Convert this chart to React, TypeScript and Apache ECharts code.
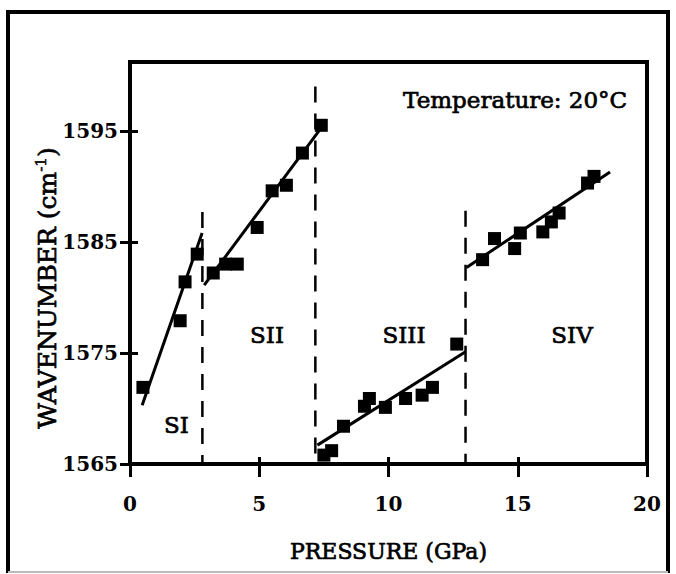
import React, { useEffect, useRef } from "react";
import * as echarts from "echarts";

// ---- data ----
const siX = [0.5, 1.94, 2.13, 2.6];
const siY = [1571.9, 1577.9, 1581.4, 1583.9];
const siiX = [3.22, 3.7, 4.15, 4.92, 5.5, 6.05, 6.67, 7.4];
const siiY = [1582.2, 1583.0, 1583.0, 1586.3, 1589.6, 1590.1, 1593.0, 1595.5];
const siiiX = [7.5, 7.8, 8.26, 9.07, 9.26, 9.88, 10.66, 11.3, 11.7, 12.64];
const siiiY = [1565.8, 1566.2, 1568.4, 1570.2, 1570.9, 1570.1, 1570.9, 1571.2, 1571.9, 1575.8];
const sivX = [13.64, 14.1, 14.88, 15.1, 15.97, 16.3, 16.6, 17.7, 17.95];
const sivY = [1583.4, 1585.3, 1584.4, 1585.8, 1585.9, 1586.8, 1587.6, 1590.3, 1590.9];

// linear fits [x0, y0, x1, y1]
const siFit = [0.47, 1570.3, 2.79, 1585.8];
const siiFit = [2.87, 1581.1, 7.44, 1595.4];
const siiiFit = [7.25, 1566.7, 12.98, 1575.1];
const sivFit = [13.02, 1582.7, 18.57, 1591.3];

// phase boundaries: x, top y
const boundaryX = [2.8, 7.17, 12.98];
const boundaryTop = [1587.7, 1599, 1587.8];

const phaseNames = ["SI", "SII", "SIII", "SIV"];
const phaseLabelX = [1.8, 5.3, 10.6, 17.1];
const phaseLabelY = [1568.5, 1576.6, 1576.6, 1576.6];

const xTicks = [0, 5, 10, 15, 20];
const yTicks = [1565, 1575, 1585, 1595];
const xMin = 0, xMax = 20, yMin = 1565, yMax = 1601.2;

const tempText = "Temperature: 20°C";
const tempPos = [14.9, 1597.8];

const FONT = "DejaVu Serif";
const INK = "#000";

const zip = (xs: number[], ys: number[]) => xs.map((x, i) => [x, ys[i]]);

export default function App() {
  const ref = useRef<HTMLDivElement>(null);
  useEffect(() => {
    if (!ref.current) return;
    const chart = echarts.init(ref.current, undefined, { renderer: "svg" });

    const pointSeries = [
      zip(siX, siY),
      zip(siiX, siiY),
      zip(siiiX, siiiY),
      zip(sivX, sivY),
    ].map((d, i) => ({
      type: "scatter",
      name: phaseNames[i] + " data",
      data: d,
      symbol: "rect",
      symbolSize: 13,
      itemStyle: { color: INK, opacity: 1 },
      z: 5,
    }));

    const fitSeries = [siFit, siiFit, siiiFit, sivFit].map((f, i) => ({
      type: "line",
      name: phaseNames[i] + " fit",
      data: [
        [f[0], f[1]],
        [f[2], f[3]],
      ],
      showSymbol: false,
      symbol: "none",
      lineStyle: { color: INK, width: 3 },
      z: 4,
    }));

    const boundarySeries = boundaryX.map((bx, i) => ({
      type: "line",
      name: "boundary " + (i + 1),
      data: [
        [bx, boundaryTop[i]],
        [bx, yMin],
      ],
      showSymbol: false,
      symbol: "none",
      lineStyle: { color: INK, width: 2.5, type: [16, 11] },
      z: 3,
    }));

    const textThick = { textBorderColor: INK, textBorderWidth: 0.7 };

    const labelSeries = {
      type: "scatter",
      name: "labels",
      symbolSize: 0,
      silent: true,
      itemStyle: { opacity: 1 },
      data: phaseNames
        .map((n, i) => ({ name: n, value: [phaseLabelX[i], phaseLabelY[i]] }))
        .concat([{ name: tempText, value: tempPos }]),
      label: {
        show: true,
        position: "inside",
        formatter: (p: any) => p.name,
        color: INK,
        fontFamily: FONT,
        fontSize: 23,
        ...textThick,
      },
      z: 6,
    };

    const axisLabelStyle = { color: INK, fontFamily: FONT, fontSize: 20, fontWeight: "bold" as const };

    chart.setOption({
      animation: false,
      backgroundColor: "#fff",
      grid: {
        left: 130,
        right: 29,
        top: 62,
        bottom: 110,
        show: true,
        borderColor: INK,
        borderWidth: 4,
      },
      xAxis: [
        {
          type: "value",
          min: xMin,
          max: xMax,
          interval: 5,
          position: "bottom",
          axisLine: { show: true, lineStyle: { color: INK, width: 4 } },
          axisTick: { show: true, inside: false, length: 13, lineStyle: { color: INK, width: 3 } },
          axisLabel: { ...axisLabelStyle, margin: 30, customValues: xTicks, formatter: (v: number) => String(v) },
          splitLine: { show: false },
          name: "PRESSURE (GPa)",
          nameLocation: "middle",
          nameGap: 76,
          nameTextStyle: { color: INK, fontFamily: FONT, fontSize: 22, ...textThick },
        },
        {
          type: "value",
          min: xMin,
          max: xMax,
          interval: 5,
          position: "bottom",
          offset: 0,
          axisLine: { show: false },
          axisTick: { show: true, inside: true, length: 7, lineStyle: { color: INK, width: 3 } },
          axisLabel: { show: false },
          splitLine: { show: false },
        },
      ],
      yAxis: [
        {
          type: "value",
          min: yMin,
          max: yMax,
          position: "left",
          axisLine: { show: true, lineStyle: { color: INK, width: 4 } },
          axisTick: { show: true, inside: false, length: 10, customValues: yTicks, lineStyle: { color: INK, width: 3 } },
          axisLabel: { ...axisLabelStyle, margin: 12, customValues: yTicks, formatter: (v: number) => String(v) },
          splitLine: { show: false },
        },
        {
          type: "value",
          min: yMin,
          max: yMax,
          position: "left",
          offset: 0,
          axisLine: { show: false },
          axisTick: { show: true, inside: true, length: 8, customValues: yTicks, lineStyle: { color: INK, width: 3 } },
          axisLabel: { show: false },
          splitLine: { show: false },
        },
      ],
      graphic: [
        { type: "line", shape: { x1: 8, y1: 12, x2: 8, y2: 573 }, style: { stroke: INK, lineWidth: 4 } },
        { type: "line", shape: { x1: 6, y1: 12, x2: 670, y2: 12 }, style: { stroke: INK, lineWidth: 4 } },
        { type: "line", shape: { x1: 668, y1: 10, x2: 668, y2: 573 }, style: { stroke: INK, lineWidth: 4 } },
        { type: "line", shape: { x1: 8, y1: 572, x2: 668, y2: 572 }, style: { stroke: "#bbb", lineWidth: 2 } },
        {
          type: "text",
          x: 47,
          y: 288,
          rotation: Math.PI / 2,
          style: {
            text: "{a|WAVENUMBER (cm}{b|-1}{a|)}",
            align: "center",
            verticalAlign: "middle",
            rich: {
              a: { fontFamily: FONT, fontSize: 25, fill: INK, stroke: INK, lineWidth: 0.7 },
              b: { fontFamily: FONT, fontSize: 15, fill: INK, stroke: INK, lineWidth: 0.5, verticalAlign: "top", padding: [0, 0, 12, 0] },
            },
          },
        },
      ],
      series: [...boundarySeries, ...fitSeries, ...pointSeries, labelSeries],
    });
    return () => chart.dispose();
  }, []);
  return (
    <div
      ref={ref}
      style={{ position: "absolute", left: 0, top: 0, width: 676, height: 574 }}
    />
  );
}
